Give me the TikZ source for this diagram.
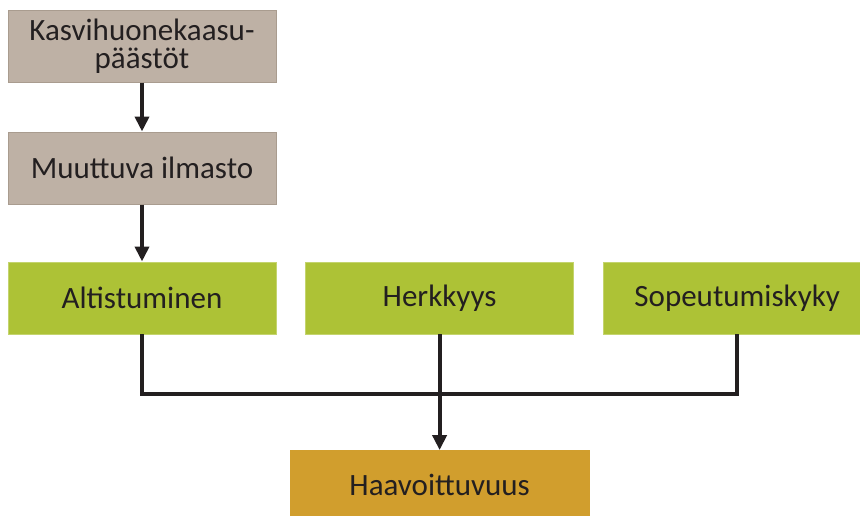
\documentclass[tikz,border=0pt]{standalone}
\usepackage{fontspec}
\setmainfont{Carlito}
\usetikzlibrary{positioning, arrows.meta}
\definecolor{greybox}{HTML}{BEB1A5}
\definecolor{greyline}{HTML}{A99C8F}
\definecolor{greenbox}{HTML}{ADC236}
\definecolor{greenline}{HTML}{C4D46E}
\definecolor{orangebox}{HTML}{D19E2D}
\definecolor{ink}{HTML}{231F20}
\tikzset{dbox/.style={minimum width=268pt, minimum height=72pt, inner sep=0pt, align=center, text=ink, font=\fontsize{31}{28}\selectfont}}
\tikzset{dcause/.style={dbox, fill=greybox, draw=greyline, line width=1pt}}
\tikzset{dfactor/.style={dbox, fill=greenbox, draw=greenline, line width=0.6pt}}
\tikzset{dresult/.style={dbox, fill=orangebox, minimum width=300pt, minimum height=70pt}}
\tikzset{conn/.style={draw=ink, line width=4pt}}
\tikzset{arr/.style={conn, -{Triangle[width=14pt, length=15pt]}}}

\begin{document}
\begin{tikzpicture}
	\useasboundingbox (0pt,0pt) rectangle (860pt,-515pt);
	\clip (0pt,0pt) rectangle (860pt,-515pt);
	\node[dcause] (K) at (142pt,-46pt) {Kasvihuonekaasu-\\päästöt};
	\node[dcause, below=49pt of K] (M) {Muuttuva ilmasto};
	\node[dfactor, below=57pt of M] (A) {Altistuminen};
	\node[dfactor, right=29pt of A] (H) {Herkkyys};
	\node[dfactor, right=29pt of H] (S) {Sopeutumiskyky};
	\node[dresult, below=116pt of H] (V) {Haavoittuvuus};
	%
	\draw[arr] (K) -- (M);
	\draw[arr] (M) -- (A);
	\draw[conn] (A.south) -- ++(0,-60pt) -| (S.south);
	\draw[arr] (H) -- (V);
\end{tikzpicture}
\end{document}
